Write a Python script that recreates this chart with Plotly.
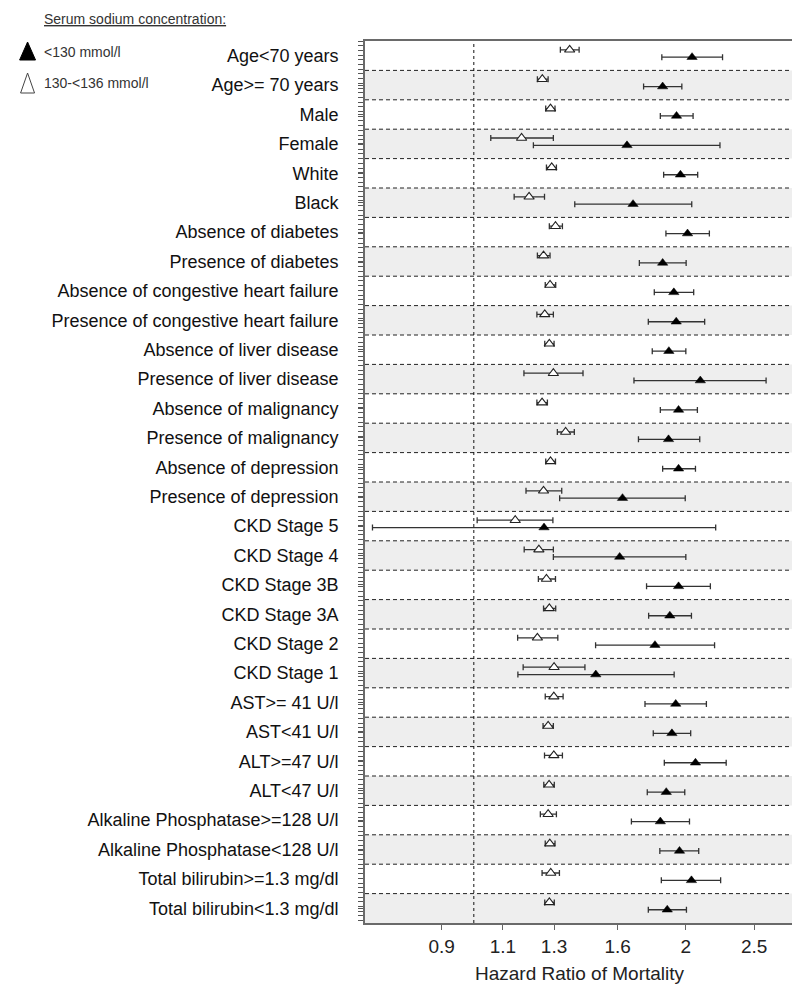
import plotly.graph_objects as go

labels = ["Age<70 years", "Age>= 70 years", "Male", "Female", "White", "Black",
          "Absence of diabetes", "Presence of diabetes",
          "Absence of congestive heart failure", "Presence of congestive heart failure",
          "Absence of liver disease", "Presence of liver disease",
          "Absence of malignancy", "Presence of malignancy",
          "Absence of depression", "Presence of depression",
          "CKD Stage 5", "CKD Stage 4", "CKD Stage 3B", "CKD Stage 3A", "CKD Stage 2", "CKD Stage 1",
          "AST>= 41 U/l", "AST<41 U/l", "ALT>=47 U/l", "ALT<47 U/l",
          "Alkaline Phosphatase>=128 U/l", "Alkaline Phosphatase<128 U/l",
          "Total bilirubin>=1.3 mg/dl", "Total bilirubin<1.3 mg/dl"]

# 130-<136 mmol/l (open triangles)
mild_hr = [1.368, 1.251, 1.285, 1.169, 1.290, 1.198, 1.306, 1.256, 1.283, 1.261,
           1.280, 1.297, 1.250, 1.350, 1.285, 1.256, 1.145, 1.237, 1.268, 1.280,
           1.231, 1.300, 1.299, 1.275, 1.299, 1.279, 1.275, 1.282, 1.286, 1.280]
mild_lo = [1.327, 1.231, 1.265, 1.057, 1.268, 1.141, 1.280, 1.231, 1.263, 1.229,
           1.261, 1.178, 1.229, 1.314, 1.265, 1.186, 1.011, 1.179, 1.235, 1.256,
           1.154, 1.175, 1.263, 1.254, 1.260, 1.257, 1.243, 1.263, 1.250, 1.261]
mild_hi = [1.411, 1.275, 1.304, 1.297, 1.310, 1.260, 1.336, 1.283, 1.307, 1.297,
           1.300, 1.429, 1.272, 1.389, 1.306, 1.333, 1.295, 1.297, 1.306, 1.307,
           1.316, 1.438, 1.339, 1.297, 1.336, 1.301, 1.310, 1.304, 1.323, 1.301]

# <130 mmol/l (filled triangles)
severe_hr = [2.041, 1.854, 1.940, 1.650, 1.965, 1.683, 2.011, 1.854, 1.923, 1.938,
             1.892, 2.097, 1.953, 1.890, 1.953, 1.626, 1.258, 1.611, 1.953, 1.898,
             1.808, 1.490, 1.935, 1.911, 2.064, 1.876, 1.840, 1.959, 2.037, 1.882]
severe_lo = [1.849, 1.742, 1.840, 1.215, 1.860, 1.391, 1.874, 1.718, 1.804, 1.769,
             1.792, 1.688, 1.840, 1.713, 1.854, 1.324, 0.718, 1.297, 1.759, 1.771,
             1.489, 1.155, 1.750, 1.798, 1.864, 1.763, 1.674, 1.837, 1.846, 1.769]
severe_hi = [2.255, 1.974, 2.048, 2.236, 2.079, 2.039, 2.160, 2.002, 2.052, 2.127,
             2.000, 2.600, 2.077, 2.093, 2.064, 1.996, 2.205, 2.000, 2.167, 2.037,
             2.197, 1.925, 2.139, 2.032, 2.282, 1.993, 2.024, 2.086, 2.241, 2.004]

x_ticks = [0.9, 1.1, 1.3, 1.6, 2, 2.5]
x_tick_text = ["0.9", "1.1", "1.3", "1.6", "2", "2.5"]

FONT = "Liberation Sans, Arial, sans-serif"
W, H = 800, 988
ML, MR, MT, MB = 357, 12, 33, 73
PW, PH = W - ML - MR, H - MT - MB

n = len(labels)
rows = list(range(n))
y_mild = [i - 0.2 for i in rows]
y_sev = [i + 0.05 for i in rows]

fig = go.Figure()

fig.add_trace(go.Scatter(
    x=mild_hr, y=y_mild, mode="markers",
    marker=dict(symbol="triangle-up", size=9, color="white",
                line=dict(color="#222", width=1.1)),
    error_x=dict(type="data", symmetric=False,
                 array=[h - p for h, p in zip(mild_hi, mild_hr)],
                 arrayminus=[p - l for p, l in zip(mild_hr, mild_lo)],
                 color="#333", thickness=1.3, width=3),
    showlegend=False, hoverinfo="skip"))

fig.add_trace(go.Scatter(
    x=severe_hr, y=y_sev, mode="markers",
    marker=dict(symbol="triangle-up", size=9, color="black",
                line=dict(color="black", width=0.5)),
    error_x=dict(type="data", symmetric=False,
                 array=[h - p for h, p in zip(severe_hi, severe_hr)],
                 arrayminus=[p - l for p, l in zip(severe_hr, severe_lo)],
                 color="#333", thickness=1.3, width=3),
    showlegend=False, hoverinfo="skip"))

shapes = []
# alternating grey bands
for i in rows:
    if i % 2 == 1:
        shapes.append(dict(type="rect", xref="paper", yref="y", x0=0, x1=1,
                           y0=i - 0.5, y1=i + 0.5, fillcolor="#eeeeee",
                           line=dict(width=0), layer="below"))
# dashed separators
for i in rows[:-1]:
    shapes.append(dict(type="line", xref="paper", yref="y", x0=0, x1=1,
                       y0=i + 0.5, y1=i + 0.5,
                       line=dict(color="#222", width=1, dash="4px,3px"), layer="below"))
# reference line at HR = 1
shapes.append(dict(type="line", xref="x", yref="paper", x0=1, x1=1, y0=0, y1=1,
                   line=dict(color="#111", width=1, dash="dot"), layer="below"))


def px(xp):
    return (xp - ML) / PW


def py(yp):
    return (H - MB - yp) / PH


def tri(x0, x1, ytop, ybot):
    xm = (x0 + x1) / 2
    return "M {},{} L {},{} L {},{} Z".format(px(x0), py(ybot), px(xm), py(ytop), px(x1), py(ybot))


shapes.append(dict(type="path", xref="paper", yref="paper", path=tri(10, 26, 34, 52),
                   fillcolor="black", line=dict(color="black", width=1)))
shapes.append(dict(type="path", xref="paper", yref="paper", path=tri(11, 25, 65, 85),
                   fillcolor="white", line=dict(color="#444", width=1)))

annotations = [
    dict(text="<u>Serum sodium concentration:</u>", x=px(32), y=py(11), xref="paper", yref="paper",
         xanchor="left", yanchor="middle", showarrow=False,
         font=dict(family=FONT, size=14, color="#333")),
    dict(text="<130 mmol/l", x=px(32), y=py(44), xref="paper", yref="paper",
         xanchor="left", yanchor="middle", showarrow=False,
         font=dict(family=FONT, size=14, color="#333")),
    dict(text="130-<136 mmol/l", x=px(32), y=py(75), xref="paper", yref="paper",
         xanchor="left", yanchor="middle", showarrow=False,
         font=dict(family=FONT, size=14, color="#333")),
]

fig.update_layout(
    width=W, height=H,
    margin=dict(l=ML, r=MR, t=MT, b=MB),
    paper_bgcolor="white", plot_bgcolor="white",
    shapes=shapes, annotations=annotations,
    font=dict(family=FONT, color="#111"),
    xaxis=dict(type="log", range=[-0.1545, 0.4546],
               tickvals=x_ticks, ticktext=x_tick_text,
               ticks="outside", ticklen=5, tickcolor="#666",
               tickfont=dict(size=19, color="#222"),
               showgrid=False, zeroline=False,
               showline=True, mirror=True, linecolor="#6a6a6a", linewidth=1.6,
               title=dict(text="Hazard Ratio of Mortality", font=dict(size=19, color="#222"), standoff=11)),
    yaxis=dict(range=[n - 0.5, -0.5], tickvals=rows, ticktext=labels,
               ticks="outside", ticklen=5, tickcolor="#555", tickwidth=1,
               minor=dict(dtick=0.16, tick0=-0.5, ticks="outside", ticklen=5, tickcolor="#555", showgrid=False),
               ticklabelstandoff=16,
               tickfont=dict(size=18, color="#111"),
               showgrid=False, zeroline=False,
               showline=True, mirror=True, linecolor="#6a6a6a", linewidth=1.6),
)

fig.write_html("out.html")
